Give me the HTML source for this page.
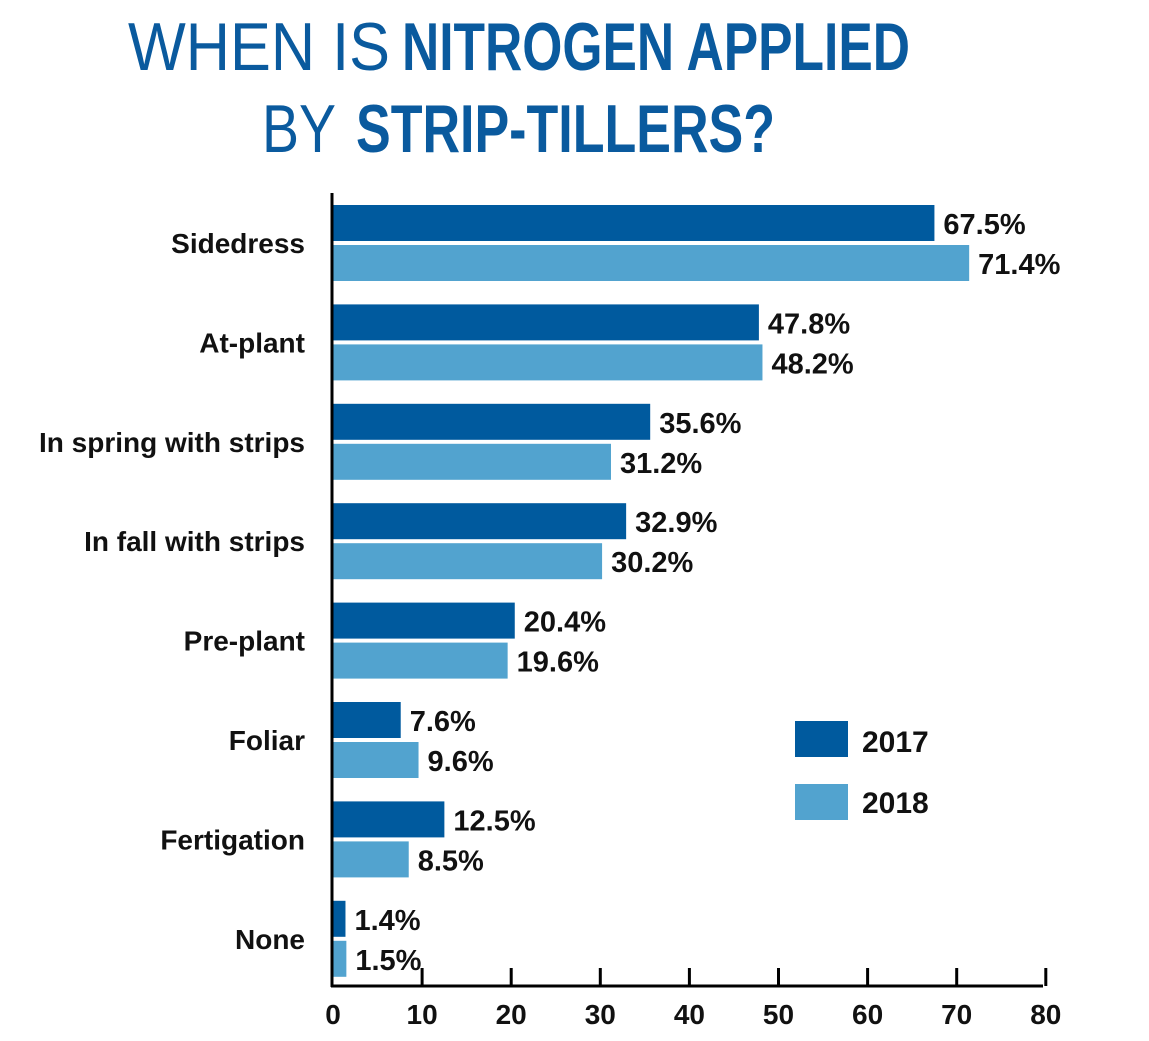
<!DOCTYPE html>
<html><head><meta charset="utf-8"><style>
html,body{margin:0;padding:0;background:#fff;}
svg{display:block;font-family:"Liberation Sans",sans-serif;}
</style></head><body>
<svg id="chart" width="1149" height="1041" viewBox="0 0 1149 1041" xmlns="http://www.w3.org/2000/svg">
<g fill="#0a5a9e">
<text x="128" y="70" font-size="68" textLength="262" lengthAdjust="spacingAndGlyphs">WHEN IS</text>
<text x="402" y="70" font-size="68" font-weight="bold" textLength="508" lengthAdjust="spacingAndGlyphs">NITROGEN APPLIED</text>
<text x="262" y="152" font-size="68" textLength="74" lengthAdjust="spacingAndGlyphs">BY</text>
<text x="356" y="152" font-size="68" font-weight="bold" textLength="419" lengthAdjust="spacingAndGlyphs">STRIP-TILLERS?</text>
</g>
<g id="bars"></g>
<g id="axes"></g>
<g>
<rect x="795" y="721" width="53" height="36" fill="#005a9e"/>
<text x="862" y="752" font-size="30" font-weight="bold" fill="#111">2017</text>
<rect x="795" y="784" width="53" height="36" fill="#52a3cf"/>
<text x="862" y="813" font-size="30" font-weight="bold" fill="#111">2018</text>
</g>
</svg>
<script>
const categories = ["Sidedress","At-plant","In spring with strips","In fall with strips","Pre-plant","Foliar","Fertigation","None"];
const values2017 = [67.5,47.8,35.6,32.9,20.4,7.6,12.5,1.4];
const values2018 = [71.4,48.2,31.2,30.2,19.6,9.6,8.5,1.5];
const ticks = [0,10,20,30,40,50,60,70,80];

const NS = "http://www.w3.org/2000/svg";
const x0 = 333, pxPerUnit = 8.91;
function xScale(v){ return x0 + v * pxPerUnit; }
const top0 = 205, pitch = 99.4, barH = 36, gap = 4;
function yScale(i){ return top0 + i * pitch; }
const bars = document.getElementById('bars');
const axes = document.getElementById('axes');
function mk(tag, attrs, parent){
  const e = document.createElementNS(NS, tag);
  for (const k in attrs) e.setAttribute(k, attrs[k]);
  parent.appendChild(e);
  return e;
}
categories.forEach((c, i) => {
  const y = yScale(i);
  const lab = mk('text', {x: 305, y: y + barH + gap/2 + 10, 'text-anchor': 'end', 'font-size': 28, 'font-weight': 'bold', fill: '#111'}, bars);
  
  
  lab.textContent = c;
  [[values2017[i], '#005a9e', y, '2017'], [values2018[i], '#52a3cf', y + barH + gap, '2018']].forEach(([v, col, yy, yr]) => {
    const r = mk('rect', {x: x0, y: yy, width: xScale(v) - x0, height: barH, fill: col}, bars);
    
    
    const t = mk('text', {x: xScale(v) + 9, y: yy + 29, 'font-size': 29, 'font-weight': 'bold', fill: '#111'}, bars);
    
    
    t.textContent = v.toFixed(1) + '%';
  });
});
const ya = mk('line', {x1: 332, y1: 193, x2: 332, y2: 987, stroke: '#000', 'stroke-width': 3}, axes);


const xa = mk('line', {x1: 331, y1: 986, x2: 1043, y2: 986, stroke: '#000', 'stroke-width': 3}, axes);


ticks.forEach(t => {
  const x = xScale(t);
  if (t > 0) {
    const tm = mk('line', {x1: x, y1: 968, x2: x, y2: 986, stroke: '#000', 'stroke-width': 3}, axes);
    
    
  }
  const tl = mk('text', {x: x, y: 1024, 'text-anchor': 'middle', 'font-size': 28, 'font-weight': 'bold', fill: '#111'}, axes);
  
  
  tl.textContent = t;
});
</script>
</body></html>
